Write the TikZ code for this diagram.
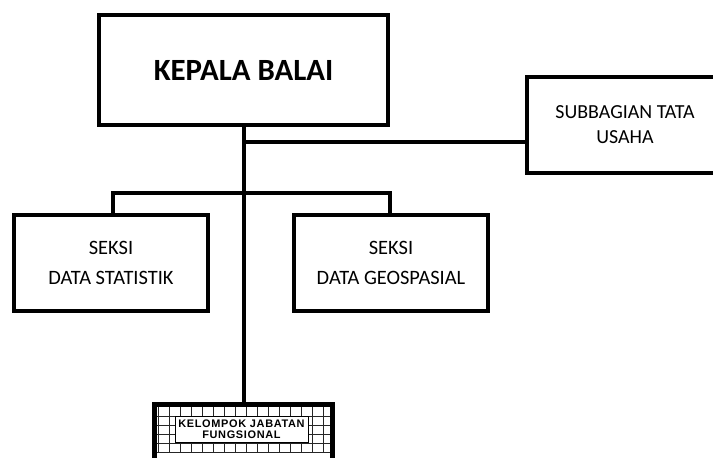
\documentclass[tikz,border=0pt]{standalone}
\usepackage{fontspec}
\setmainfont{Carlito}
\newfontfamily\arialfont[LetterSpace=6]{Liberation Sans}
\usetikzlibrary{positioning}
\tikzset{
    block/.style={draw,line width=4bp,outer sep=0pt,align=center,font=\fontsize{20.5}{30}\selectfont},
    link/.style={line width=4bp},
    gridline/.style={line width=0.9bp,black!85}
}

\begin{document}
\begin{tikzpicture}[x=1bp,y=1bp]
  \useasboundingbox (0,0) rectangle (713,458);
  \node[block,minimum width=289bp,minimum height=110bp,font=\fontsize{31}{36}\selectfont\bfseries] (kepala) at (243.5,388) {KEPALA BALAI};
  \node[block,minimum width=196bp,minimum height=96bp,font=\fontsize{20}{25}\selectfont] (subbag) at (625,333) {SUBBAGIAN TATA\\USAHA};
  \node[block,minimum width=194bp,minimum height=96bp] (seksiA) at (111,195) {SEKSI\\DATA STATISTIK};
  \node[block,minimum width=194bp,minimum height=96bp,right=86bp of seksiA] (seksiB) {SEKSI\\DATA GEOSPASIAL};
  \node[block,line width=5bp,minimum width=178bp,minimum height=75bp] (fungsi) at (243.5,15.5) {};
  % grid inside the bottom box
  \foreach \x in {158,169,...,330}
    \draw[gridline] (\x,6) -- (\x,50.5);
  \foreach \y in {6,14.8,...,50}
    \draw[gridline] (157,\y) -- (330,\y);
  \node[draw,fill=white,line width=0.9bp,minimum width=127bp,minimum height=25bp,align=center,
        font=\arialfont\bfseries\fontsize{11}{11.5}\selectfont] (jabatan) at (241.5,28.5) {KELOMPOK JABATAN\\FUNGSIONAL};
  % connectors
  \coordinate (jSub) at (kepala.south |- 0,316);
  \coordinate (jSeksi) at (kepala.south |- 0,265);
  \draw[link] (kepala.south) -- (fungsi.north);
  \draw[link] (jSub) -- (jSub -| subbag.west);
  \draw[link] ([xshift=2bp]seksiA.north) |- (jSeksi) -| ([xshift=-1bp]seksiB.north);
\end{tikzpicture}
\end{document}
